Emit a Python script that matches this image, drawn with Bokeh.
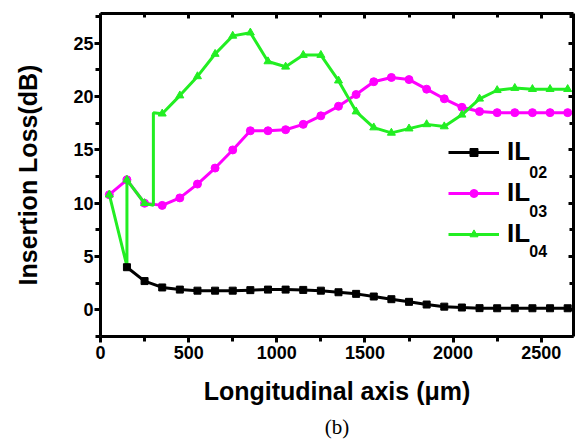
from bokeh.plotting import figure
from bokeh.models import (Range1d, FixedTicker, LinearAxis, Legend, LegendItem,
                          Label, Title, CustomJSTickFormatter)
from bokeh.embed import file_html
from bokeh.resources import INLINE

# ---------------- data ----------------
x02 = [150, 250, 350, 450, 550, 650, 750, 850, 950, 1050, 1150, 1250, 1350,
       1450, 1550, 1650, 1750, 1850, 1950, 2050, 2150, 2250, 2350, 2450, 2550, 2650]
il02 = [4.0, 2.7, 2.1, 1.9, 1.8, 1.8, 1.8, 1.85, 1.9, 1.9, 1.87, 1.8, 1.65,
        1.5, 1.25, 1.0, 0.75, 0.5, 0.3, 0.22, 0.16, 0.15, 0.15, 0.15, 0.15, 0.15]

x03 = [50, 150, 250, 350, 450, 550, 650, 750, 850, 950, 1050, 1150, 1250, 1350,
       1450, 1550, 1650, 1750, 1850, 1950, 2050, 2150, 2250, 2350, 2450, 2550, 2650]
il03 = [10.8, 12.2, 10.0, 9.8, 10.5, 11.8, 13.3, 15.0, 16.8, 16.8, 16.9, 17.4, 18.2, 19.1,
        20.2, 21.4, 21.8, 21.6, 20.7, 19.8, 19.0, 18.6, 18.5, 18.5, 18.5, 18.5, 18.5]

x04 = [50, 150, 250, 350, 450, 550, 650, 750, 850, 950, 1050, 1150, 1250, 1350,
       1450, 1550, 1650, 1750, 1850, 1950, 2050, 2150, 2250, 2350, 2450, 2550, 2650]
il04 = [10.8, 12.2, 10.0, 18.4, 20.1, 21.9, 24.0, 25.7, 26.0, 23.3, 22.8, 23.9, 23.9, 21.5,
        18.6, 17.1, 16.6, 17.0, 17.4, 17.2, 18.3, 19.8, 20.6, 20.8, 20.7, 20.7, 20.7]
# IL04 trace including its two vertical jumps (at 150 and 300 um)
il04_path_x = [50, 150, 150, 250, 300, 300] + x04[3:]
il04_path_y = [10.8, 4.1, 12.2, 10.0, 9.8, 18.5] + il04[3:]

x_ticks = [0, 500, 1000, 1500, 2000, 2500]
x_minor = [250, 750, 1250, 1750, 2250]
y_ticks = [0, 5, 10, 15, 20, 25]
y_minor = [-2.5, 2.5, 7.5, 12.5, 17.5, 22.5, 27.5]

series_names = ["IL", "IL", "IL"]
series_subs = ["02", "03", "04"]

GREEN = "#22ee22"
MAGENTA = "#ff00ff"
FONT = "Liberation Sans"

p = figure(frame_width=473, frame_height=323,
           x_range=Range1d(0, 2683), y_range=Range1d(-2.5, 27.8),
           output_backend="svg", toolbar_location=None,
           min_border_left=100, min_border_right=5, min_border_top=13,
           min_border_bottom=106)
p.grid.visible = False
p.outline_line_color = None
p.background_fill_color = "white"
p.border_fill_color = "white"

# main axes
xa = p.xaxis[0]
ya = p.yaxis[0]
xa.ticker = FixedTicker(ticks=x_ticks, minor_ticks=x_minor)
ya.ticker = FixedTicker(ticks=y_ticks, minor_ticks=y_minor)
for ax in (xa, ya):
    ax.axis_line_width = 3
    ax.major_tick_line_width = 3
    ax.minor_tick_line_width = 3
    ax.major_tick_out = 6
    ax.major_tick_in = 0
    ax.minor_tick_out = 5
    ax.minor_tick_in = 0
    ax.major_label_text_font = FONT
    ax.major_label_text_font_style = "bold"
    ax.major_label_text_font_size = "18px"
    ax.major_label_text_color = "black"
    ax.axis_label_text_font = FONT
    ax.axis_label_text_font_style = "bold"
    ax.axis_label_text_font_size = "25px"
    ax.axis_label_text_color = "black"
xa.major_label_standoff = 3
ya.major_label_standoff = 1
xa.axis_label = "Longitudinal axis (μm)"
ya.axis_label = "Insertion Loss(dB)"
xa.axis_label_standoff = 15
ya.axis_label_standoff = 28

# mirror axes (inward ticks, no labels)
blank = CustomJSTickFormatter(code="return ''")
top = LinearAxis(ticker=FixedTicker(ticks=x_ticks, minor_ticks=x_minor), formatter=blank)
right = LinearAxis(ticker=FixedTicker(ticks=y_ticks, minor_ticks=y_minor), formatter=blank)
for ax in (top, right):
    ax.axis_line_width = 3
    ax.major_tick_line_width = 3
    ax.minor_tick_line_width = 3
    ax.major_tick_out = 0
    ax.major_tick_in = 5
    ax.minor_tick_out = 0
    ax.minor_tick_in = 4
    ax.major_label_standoff = 0
p.add_layout(top, "above")
p.add_layout(right, "right")

# data
r03l = p.line(x03, il03, line_color=MAGENTA, line_width=3)
r03m = p.scatter(x03, il03, marker="circle", size=8, fill_color=MAGENTA, line_color=MAGENTA)
r04l = p.line(il04_path_x, il04_path_y, line_color=GREEN, line_width=3)
r04m = p.scatter(x04, il04, marker="triangle", size=8, fill_color=GREEN, line_color=GREEN)
r02l = p.line(x02, il02, line_color="black", line_width=3)
r02m = p.scatter(x02, il02, marker="square", size=7, fill_color="black", line_color="black")

legend = Legend(items=[LegendItem(label=series_names[0], renderers=[r02l, r02m]),
                       LegendItem(label=series_names[1], renderers=[r03l, r03m]),
                       LegendItem(label=series_names[2], renderers=[r04l, r04m])],
                location=(348, 87), glyph_width=51, glyph_height=20, label_height=30,
                spacing=10, label_standoff=8, padding=0, margin=0,
                border_line_color=None, background_fill_alpha=0,
                label_text_font=FONT, label_text_font_style="bold",
                label_text_font_size="26px", label_text_color="black")
p.add_layout(legend)

for sub, yy in zip(series_subs, [12.93, 9.3, 5.55]):
    p.add_layout(Label(x=2432, y=yy, text=sub, text_font=FONT, text_font_style="bold",
                       text_font_size="16px", text_color="black",
                       text_baseline="alphabetic"))

p.add_layout(Title(text="(b)", align="center", text_font="Liberation Serif",
                   text_font_style="normal", text_font_size="21px",
                   text_color="black", standoff=11), "below")

open("out.html", "w").write(file_html(p, INLINE))
